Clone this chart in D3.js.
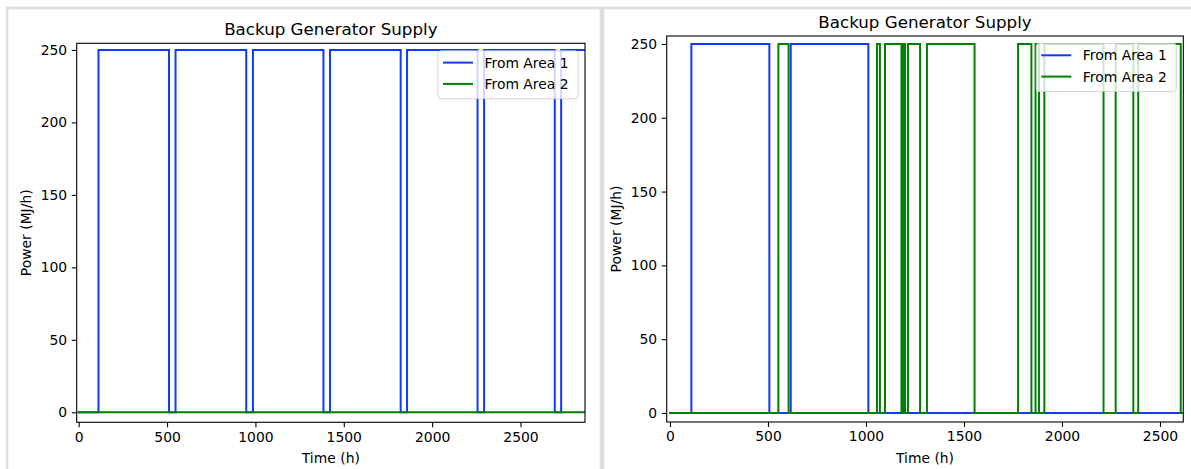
<!DOCTYPE html>
<html>
<head>
<meta charset="utf-8">
<script src="https://cdn.jsdelivr.net/npm/d3@7"></script>
<style>
  body { margin: 0; background: #fff; }
  svg { display: block; font-family: "DejaVu Sans", sans-serif; }
</style>
</head>
<body>
<svg id="chart" width="1191" height="469"></svg>
<script>
// ---- data -------------------------------------------------------------
const titleText = "Backup Generator Supply";
const xLabel = "Time (h)";
const yLabel = "Power (MJ/h)";
const xTicks = [0, 500, 1000, 1500, 2000, 2500];
const yTicks = [0, 50, 100, 150, 200, 250];
const seriesNames = ["From Area 1", "From Area 2"];
const seriesColors = ["#1238ff", "#008000"];

// Each series: the hour at which a step begins and the supply level held from then on
const leftArea1Hours = [0, 112, 511, 548, 948, 986, 1385, 1422, 1822, 1858, 2257, 2294, 2694, 2730, 2880];
const leftArea1Power = [0, 250, 0, 250, 0, 250, 0, 250, 0, 250, 0, 250, 0, 250, 250];
const leftArea2Hours = [0, 2880];
const leftArea2Power = [0, 0];

const rightArea1Hours = [0, 109, 507, 616, 1012, 2620];
const rightArea1Power = [0, 250, 0, 250, 0, 0];
const rightArea2Hours = [0, 553, 605, 1056, 1071, 1097, 1181, 1189, 1199, 1214, 1276, 1311,
                         1554, 1776, 1844, 1865, 1883, 1910, 2212, 2274, 2364, 2389, 2606, 2620];
const rightArea2Power = [0, 250, 0, 250, 0, 250, 0, 250, 0, 250, 0, 250,
                         0, 250, 0, 250, 0, 250, 0, 250, 0, 250, 0, 0];

// ---- layout -----------------------------------------------------------
const svg = d3.select("#chart");

// light frames around the two figures
svg.append("rect").attr("x", 7).attr("y", 8).attr("width", 594).attr("height", 480)
  .attr("fill", "none").attr("stroke", "#dedede").attr("stroke-width", 2.6);
svg.append("rect").attr("x", 603).attr("y", 8).attr("width", 600).attr("height", 480)
  .attr("fill", "none").attr("stroke", "#dedede").attr("stroke-width", 2.6);

const panels = [
  {
    id: "left",
    box: { x0: 76.7, x1: 585, y0: 43.3, y1: 422.3 },
    xDomain: [-11.3, 2865], yDomain: [-6.9, 254.6],
    titleY: 34.5,
    series: [
      { hours: leftArea1Hours, power: leftArea1Power },
      { hours: leftArea2Hours, power: leftArea2Power }
    ]
  },
  {
    id: "right",
    box: { x0: 666.7, x1: 1183.3, y0: 36, y1: 422 },
    xDomain: [-16.8, 2619], yDomain: [-6.1, 255.4],
    titleY: 27.5,
    series: [
      { hours: rightArea1Hours, power: rightArea1Power },
      { hours: rightArea2Hours, power: rightArea2Power }
    ]
  }
];

const tickFont = 13.9;

panels.forEach(p => {
  const b = p.box;
  const x = d3.scaleLinear().domain(p.xDomain).range([b.x0, b.x1]);
  const y = d3.scaleLinear().domain(p.yDomain).range([b.y1, b.y0]);
  const g = svg.append("g");

  g.append("clipPath").attr("id", "clip-" + p.id)
    .append("rect").attr("x", b.x0).attr("y", b.y0)
    .attr("width", b.x1 - b.x0).attr("height", b.y1 - b.y0);

  // step lines
  const line = d3.line().curve(d3.curveStepAfter)
    .x(d => x(d[0])).y(d => y(d[1]));
  const lines = g.append("g").attr("clip-path", `url(#clip-${p.id})`);
  p.series.forEach((s, i) => {
    const pts = s.hours.map((h, k) => [h, s.power[k]]);
    lines.append("path").datum(pts)
      .attr("d", line)
      .attr("fill", "none")
      .attr("stroke", seriesColors[i])
      .attr("stroke-width", 2)
      .attr("stroke-linecap", "square")
      .attr("stroke-linejoin", "miter");
  });

  // axes
  const xAxis = d3.axisBottom(x).tickValues(xTicks).tickFormat(d3.format("d"))
    .tickSizeInner(4.9).tickSizeOuter(0).tickPadding(4.6);
  const yAxis = d3.axisLeft(y).tickValues(yTicks).tickFormat(d3.format("d"))
    .tickSizeInner(4.9).tickSizeOuter(0).tickPadding(4.6);

  const gx = g.append("g").attr("transform", `translate(0,${b.y1})`).call(xAxis);
  const gy = g.append("g").attr("transform", `translate(${b.x0},0)`).call(yAxis);
  [gx, gy].forEach(a => {
    a.select(".domain").remove();
    a.selectAll(".tick line").attr("stroke", "#000").attr("stroke-width", 1.1);
    a.selectAll(".tick text").attr("fill", "#000")
      .style("font-family", "DejaVu Sans").style("font-size", tickFont + "px");
  });

  // spines
  g.append("rect").attr("x", b.x0).attr("y", b.y0)
    .attr("width", b.x1 - b.x0).attr("height", b.y1 - b.y0)
    .attr("fill", "none").attr("stroke", "#000").attr("stroke-width", 1.1);

  // title and axis labels
  const cx = (b.x0 + b.x1) / 2;
  const cy = (b.y0 + b.y1) / 2;
  g.append("text").attr("x", cx).attr("y", p.titleY)
    .attr("text-anchor", "middle").style("font-size", "16.7px").attr("fill", "#000")
    .text(titleText);
  g.append("text").attr("x", cx).attr("y", b.y1 + 40.5)
    .attr("text-anchor", "middle").style("font-size", tickFont + "px").attr("fill", "#000")
    .text(xLabel);
  g.append("text")
    .attr("transform", `translate(${b.x0 - 45.5},${cy}) rotate(-90)`)
    .attr("text-anchor", "middle").style("font-size", tickFont + "px").attr("fill", "#000")
    .text(yLabel);

  // legend (upper right, translucent)
  const lw = 140, lh = 48;
  const lx = b.x1 - 7 - lw, ly = b.y0 + 7.5;
  const lg = g.append("g");
  lg.append("rect").attr("x", lx).attr("y", ly).attr("width", lw).attr("height", lh)
    .attr("rx", 2.8).attr("ry", 2.8)
    .attr("fill", "#fff").attr("fill-opacity", 0.8)
    .attr("stroke", "#cccccc").attr("stroke-opacity", 0.8).attr("stroke-width", 1);
  seriesNames.forEach((name, i) => {
    const ry = ly + 11.8 + i * 21.3;
    lg.append("line").attr("x1", lx + 5).attr("x2", lx + 35)
      .attr("y1", ry).attr("y2", ry)
      .attr("stroke", seriesColors[i]).attr("stroke-width", 2);
    lg.append("text").attr("x", lx + 46.5).attr("y", ry + 5)
      .style("font-size", tickFont + "px").attr("fill", "#000")
      .text(name);
  });
});
</script>
</body>
</html>
